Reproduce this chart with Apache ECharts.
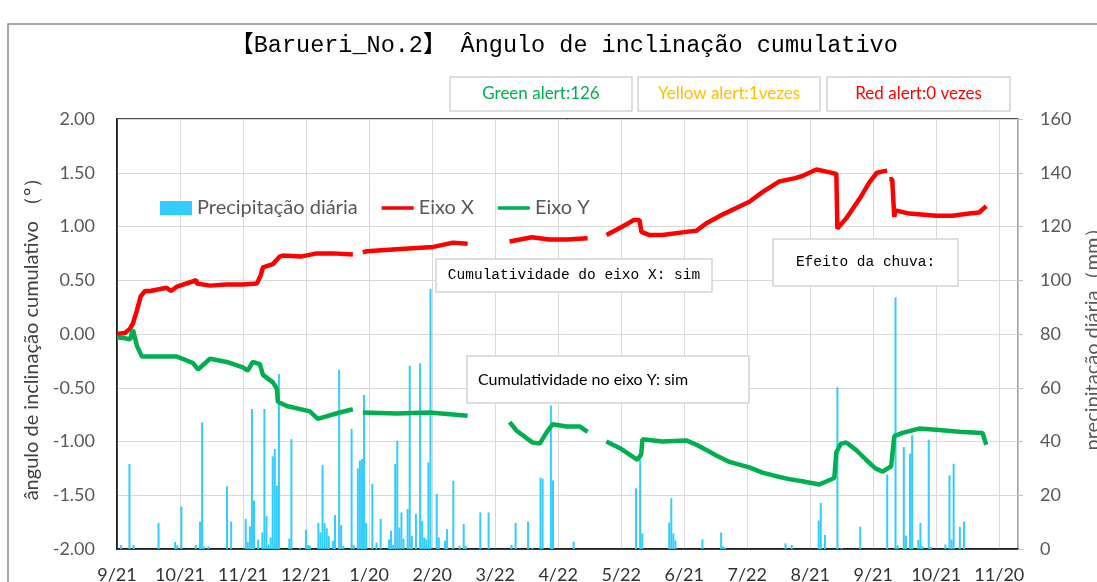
<!DOCTYPE html>
<html><head><meta charset="utf-8">
<script src="https://cdn.jsdelivr.net/npm/echarts@6/dist/echarts.min.js"></script>
<style>html,body{margin:0;padding:0;background:#fff;overflow:hidden}#c{width:1097px;height:582px}</style>
</head><body><div id="c"></div>
<script>
// ---- data ----
const tickLabels = ['9/21','10/21','11/21','12/21','1/20','2/20','3/22','4/22','5/22','6/21','7/22','8/21','9/21','10/21','11/20'];
const leftTicks = [-2, -1.5, -1, -0.5, 0, 0.5, 1, 1.5, 2];
const rightTicks = [0, 20, 40, 60, 80, 100, 120, 140, 160];
const seriesNames = ['Precipitação diária', 'Eixo X', 'Eixo Y'];

const rainDays = [2,6,8,20,28,29,31,38,40,41,42,44,53,55,62,63,64,65,66,68,70,71,72,73,74,75,76,77,78,83,84,88,91,92,93,97,98,99,100,101,102,104,105,107,108,109,113,114,116,117,118,119,120,123,125,127,131,132,133,134,135,136,137,138,140,141,142,144,146,147,148,149,150,151,154,155,158,159,162,165,167,168,175,179,190,192,198,200,204,205,209,210,220,250,252,253,266,267,268,269,282,291,292,293,322,325,338,339,341,347,349,358,371,375,376,379,380,382,383,386,387,388,391,392,399,401,402,403,406,408];
const rainMm = [1.5,31.6,1.5,9.7,2.6,1.3,15.8,1.5,10.2,47.1,1.0,1.0,23.3,10.2,11.2,2.6,8.4,52.1,18.0,3.5,6.2,52.1,12.2,1.7,4.3,34.5,37.2,23.6,65.1,3.9,40.9,0.5,7.2,1.5,1.2,9.7,6.2,31.3,9.7,7.7,4.8,3.0,12.6,66.7,8.9,1.2,44.7,1.5,30.0,32.9,33.5,57.3,9.7,24.2,2.4,11.2,3.6,6.8,1.5,31.6,40.3,8.0,13.6,3.9,14.9,68.2,4.8,13.0,69.1,10.5,4.3,3.6,32.2,96.7,20.5,4.3,3.1,7.4,25.4,1.2,9.3,1.2,13.6,13.6,1.5,9.7,10.2,0.5,26.6,26.2,53.4,25.5,2.7,22.6,33.1,5.8,9.8,18.9,5.8,3.2,3.6,6.1,1.0,0.5,2.1,1.5,10.6,17.1,5.2,60.2,0.3,8.3,27.7,93.7,1.4,37.9,5.0,35.5,42.3,3.4,9.7,1.0,40.7,0.8,1.7,27.4,3.5,31.7,8.2,10.2];

const eixoXDays = [0,3.8,6.3,7.7,9.6,11.4,13.5,15.9,23.9,26.0,28.9,38.2,38.5,44.8,52.9,60.6,67.4,69.3,70.3,75.1,78.4,79.9,88.5,96.1,104.1,113.6,116,118.4,120.3,136.4,152.4,161.9,168.9,179,189.1,199.8,208.1,216.6,226.7,231,235.8,243.5,249.0,251.7,252.6,256.5,262.7,274.2,279.1,283.9,292.6,304.6,310.9,319.1,326.7,330.1,336.9,341.7,346.5,347.0,351.4,358.4,362.4,366.0,371.0,371.5,372.0,373.4,374.4,375.0,381.6,394.6,402.3,410.5,415.3,418.7];
const eixoXVals = [0.00,0.01,0.05,0.10,0.22,0.35,0.40,0.40,0.43,0.40,0.44,0.50,0.47,0.45,0.46,0.46,0.47,0.55,0.62,0.65,0.72,0.73,0.72,0.75,0.75,0.74,null,0.76,0.77,0.79,0.81,0.85,0.84,null,0.86,0.90,0.88,0.88,0.89,null,0.92,1.00,1.06,1.06,0.95,0.92,0.92,0.95,0.96,1.03,1.12,1.23,1.32,1.42,1.45,1.47,1.53,1.51,1.49,0.98,1.08,1.28,1.41,1.50,1.52,null,1.44,1.44,1.09,1.15,1.12,1.10,1.10,1.12,1.13,1.19];

const eixoYDays = [0,3.8,6.3,7.7,9.6,12.0,20.7,28.9,36.6,39.0,44.8,52.9,60.6,63.0,65.4,68.8,70.3,75.1,77.0,77.5,81.8,92.9,96.7,107.3,113.6,116,118.4,134.7,150.6,168.9,179,189.1,192.5,200.2,203.6,206.8,209.8,216.6,222.8,226.7,231,235.7,242.1,250.7,252.5,253.1,262.7,274.2,279.1,283.9,288.7,295.0,304.6,310.9,319.1,323.8,330.1,338.3,345.5,346.5,348.7,351.3,356.1,360.8,365.3,368.8,372.9,374.4,378.4,386.4,394.6,405.7,416.9,418.7];
const eixoYVals = [-0.03,-0.04,-0.05,0.04,-0.11,-0.21,-0.21,-0.21,-0.27,-0.33,-0.23,-0.26,-0.31,-0.34,-0.26,-0.28,-0.38,-0.45,-0.51,-0.63,-0.67,-0.72,-0.79,-0.73,-0.70,null,-0.73,-0.74,-0.73,-0.76,null,-0.82,-0.90,-1.01,-1.02,-0.92,-0.84,-0.86,-0.86,-0.91,null,-1.00,-1.06,-1.17,-1.12,-0.98,-1.00,-0.99,-1.03,-1.08,-1.13,-1.19,-1.24,-1.29,-1.33,-1.35,-1.37,-1.40,-1.34,-1.10,-1.02,-1.01,-1.08,-1.17,-1.25,-1.28,-1.23,-0.95,-0.92,-0.88,-0.89,-0.91,-0.92,-1.03];

const titleText = '【Barueri_No.2】 Ângulo de inclinação cumulativo';
const alertTexts = ['Green alert:126', 'Yellow alert:1vezes', 'Red alert:0 vezes'];
const noteTexts = ['Cumulatividade do eixo X: sim', 'Efeito da chuva:', 'Cumulatividade no eixo Y: sim'];

// ---- chart ----
const tickStep = 425 / 14;
const chart = echarts.init(document.getElementById('c'), null, {renderer: 'canvas'});
const pair = (ds, vs) => ds.map((d, i) => [d, vs[i]]);
const labelFont = 'Lato, "Noto Sans", sans-serif';
const monoFont = '"Liberation Mono", "DejaVu Sans Mono", "Noto Sans CJK JP", monospace';
const lineIcon = 'path://M0,0H32V3.5H0Z';

function box(x, y, w, h, text, color, font, size, leftPad) {
  return [
    {type: 'rect', shape: {x, y, width: w, height: h}, style: {fill: '#fff', stroke: '#d4d4d4', lineWidth: 1.5}, z: 100},
    {type: 'text', x: leftPad ? x + leftPad : x + w / 2, y: y + h / 2,
     style: {text, fill: color, font: size + 'px ' + font, textAlign: leftPad ? 'left' : 'center', textVerticalAlign: 'middle'}, z: 101}
  ];
}

chart.setOption({
  animation: false,
  backgroundColor: '#fff',
  grid: {left: 117, top: 119, width: 901, height: 430, show: true, borderColor: '#111', borderWidth: 1.5, containLabel: false, outerBoundsMode: 'none'},
  legend: {
    data: [
      {name: seriesNames[0], icon: 'rect'},
      {name: seriesNames[1], icon: lineIcon},
      {name: seriesNames[2], icon: lineIcon}
    ],
    left: 155, top: 193, itemWidth: 32, itemHeight: 14, itemGap: 24, symbolKeepAspect: true,
    textStyle: {fontFamily: labelFont, fontSize: 20, color: '#595959'}
  },
  xAxis: {
    type: 'value', min: 0, max: 434, interval: tickStep,
    axisLine: {show: true, onZero: false, lineStyle: {color: '#111', width: 1.5}},
    axisTick: {show: false},
    splitLine: {show: true, lineStyle: {color: '#d9d9d9', width: 1}},
    axisLabel: {
      fontFamily: labelFont, fontSize: 18, color: '#333', margin: 17, showMaxLabel: true, hideOverlap: false,
      formatter: v => { const i = Math.round(v / tickStep); return (Math.abs(v - i * tickStep) < 0.01 && i < tickLabels.length) ? tickLabels[i] : ''; }
    }
  },
  yAxis: [{
    type: 'value', min: leftTicks[0], max: leftTicks[leftTicks.length - 1], interval: 0.5,
    name: 'ângulo de inclinação cumulativo （°）', nameLocation: 'middle', nameGap: 74, nameRotate: 90,
    nameTextStyle: {fontFamily: labelFont, fontSize: 20, color: '#404040'},
    axisLine: {show: true, onZero: false, lineStyle: {color: '#111', width: 1.5}},
    axisTick: {show: false},
    splitLine: {show: true, lineStyle: {color: '#d9d9d9'}},
    axisLabel: {fontFamily: labelFont, fontSize: 18, color: '#595959', margin: 22, formatter: v => v.toFixed(2)}
  }, {
    type: 'value', min: rightTicks[0], max: rightTicks[rightTicks.length - 1], interval: 20, position: 'right',
    name: 'precipitação diária（mm）', nameLocation: 'middle', nameGap: 64, nameRotate: 90,
    nameTextStyle: {fontFamily: labelFont, fontSize: 20, color: '#595959'},
    axisLine: {show: true, onZero: false, lineStyle: {color: '#bfbfbf', width: 1.5}},
    axisTick: {show: true, length: 5, lineStyle: {color: '#bfbfbf'}},
    splitLine: {show: false},
    axisLabel: {fontFamily: labelFont, fontSize: 18, color: '#595959', margin: 22}
  }],
  series: [{
    name: seriesNames[0], type: 'bar', yAxisIndex: 1, barWidth: 2,
    itemStyle: {color: '#33CCFF'}, data: pair(rainDays, rainMm)
  }, {
    name: seriesNames[1], type: 'line', yAxisIndex: 0, showSymbol: false, symbol: 'none', connectNulls: false,
    lineStyle: {color: '#FF0000', width: 4.5}, itemStyle: {color: '#FF0000'}, data: pair(eixoXDays, eixoXVals)
  }, {
    name: seriesNames[2], type: 'line', yAxisIndex: 0, showSymbol: false, symbol: 'none', connectNulls: false,
    lineStyle: {color: '#00B050', width: 4.5}, itemStyle: {color: '#00B050'}, data: pair(eixoYDays, eixoYVals)
  }],
  graphic: [
    {type: 'rect', shape: {x: 8, y: 24, width: 1200, height: 700}, style: {fill: 'none', stroke: '#8c8c8c', lineWidth: 1.5}, z: 0, silent: true},
    {type: 'text', x: 564, y: 46, style: {text: titleText, font: '23.5px ' + monoFont, fill: '#000', textAlign: 'center', textVerticalAlign: 'middle'}, z: 101},
    ...box(450, 77, 182, 34, alertTexts[0], '#00B050', labelFont, 17),
    ...box(638, 77, 182, 34, alertTexts[1], '#FFC000', labelFont, 17),
    ...box(827, 77, 183, 34, alertTexts[2], '#FF0000', labelFont, 17),
    ...box(436, 259, 276, 33, noteTexts[0], '#000', monoFont, 14.5),
    ...box(773, 239, 185, 47, noteTexts[1], '#000', monoFont, 14.5),
    ...box(467, 356, 282, 47, noteTexts[2], '#000', labelFont, 16, 11)
  ]
});
</script>
</body></html>
